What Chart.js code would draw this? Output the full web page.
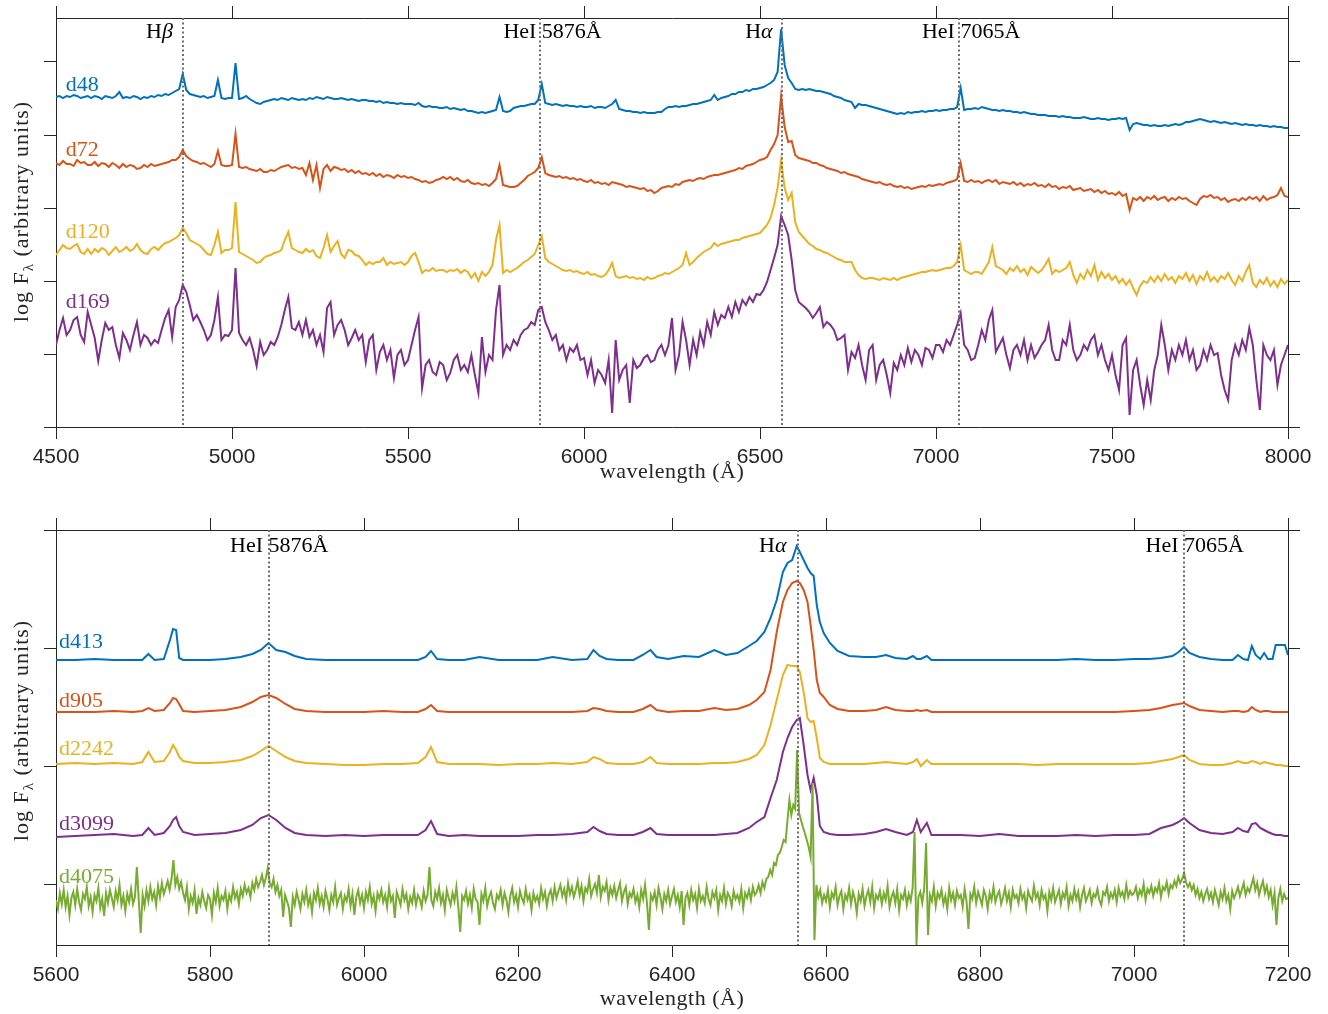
<!DOCTYPE html>
<html>
<head>
<meta charset="utf-8">
<script src="https://cdn.jsdelivr.net/npm/chart.js@4.4.1/dist/chart.umd.min.js"></script>
<style>
  html, body { margin: 0; padding: 0; background: #fff; }
  canvas { display: block; }
</style>
</head>
<body>
<canvas id="chartTop" width="1328" height="507"></canvas>
<canvas id="chartBottom" width="1328" height="507"></canvas>
<script>
// ---- top panel: early epochs, sampled every 10 A from 4500 to 8000 A ----
const TOP_START = 4500;
const TOP_STEP = 10;

const D48 = [
  3.30,3.31,3.29,3.31,3.30,3.32,3.31,3.29,3.30,3.31,
  3.29,3.31,3.30,3.28,3.31,3.30,3.29,3.31,3.35,3.29,
  3.30,3.29,3.31,3.30,3.28,3.30,3.29,3.31,3.30,3.32,
  3.31,3.33,3.32,3.34,3.36,3.38,3.53,3.37,3.33,3.32,
  3.31,3.30,3.31,3.29,3.30,3.31,3.47,3.29,3.28,3.29,
  3.29,3.64,3.28,3.29,3.31,3.28,3.26,3.24,3.23,3.25,
  3.26,3.27,3.28,3.27,3.29,3.28,3.27,3.29,3.28,3.27,
  3.28,3.27,3.29,3.28,3.30,3.29,3.28,3.30,3.29,3.28,
  3.28,3.29,3.28,3.27,3.28,3.27,3.26,3.27,3.27,3.26,
  3.26,3.25,3.26,3.24,3.25,3.24,3.24,3.23,3.24,3.23,
  3.23,3.23,3.22,3.24,3.21,3.20,3.21,3.20,3.20,3.19,
  3.19,3.20,3.18,3.19,3.18,3.17,3.18,3.16,3.16,3.15,
  3.14,3.15,3.14,3.15,3.16,3.17,3.30,3.16,3.15,3.16,
  3.19,3.20,3.21,3.21,3.22,3.23,3.23,3.27,3.43,3.24,
  3.23,3.22,3.23,3.22,3.21,3.22,3.21,3.21,3.20,3.21,
  3.20,3.20,3.21,3.19,3.20,3.20,3.19,3.21,3.23,3.27,
  3.18,3.17,3.16,3.16,3.15,3.15,3.14,3.15,3.14,3.14,
  3.14,3.15,3.15,3.18,3.20,3.20,3.21,3.20,3.21,3.21,
  3.22,3.23,3.23,3.24,3.25,3.26,3.27,3.32,3.27,3.29,
  3.30,3.31,3.33,3.33,3.35,3.35,3.37,3.36,3.38,3.38,
  3.39,3.40,3.42,3.44,3.47,3.55,3.98,3.62,3.49,3.44,
  3.38,3.37,3.38,3.37,3.38,3.37,3.36,3.36,3.35,3.34,
  3.33,3.31,3.30,3.29,3.27,3.26,3.25,3.19,3.23,3.22,
  3.22,3.21,3.20,3.19,3.18,3.17,3.16,3.15,3.14,3.13,
  3.14,3.13,3.15,3.14,3.15,3.15,3.16,3.15,3.16,3.16,
  3.17,3.16,3.17,3.17,3.18,3.18,3.20,3.39,3.17,3.18,
  3.18,3.19,3.18,3.20,3.19,3.18,3.17,3.17,3.16,3.17,
  3.16,3.16,3.15,3.15,3.14,3.15,3.14,3.13,3.13,3.12,
  3.12,3.12,3.11,3.11,3.11,3.10,3.11,3.10,3.10,3.09,
  3.09,3.09,3.10,3.09,3.08,3.08,3.09,3.08,3.08,3.07,
  3.08,3.08,3.09,3.08,3.09,2.97,3.03,3.04,3.03,3.02,
  3.02,3.01,3.02,3.01,3.01,3.02,3.01,3.02,3.03,3.02,
  3.03,3.05,3.05,3.06,3.07,3.08,3.07,3.06,3.05,3.06,
  3.05,3.04,3.05,3.04,3.03,3.04,3.03,3.02,3.03,3.02,
  3.02,3.01,3.02,3.01,3.01,3.00,3.01,3.00,3.00,2.99,
  2.99
];

const D72 = [
  2.64,2.62,2.66,2.63,2.63,2.61,2.67,2.64,2.65,2.62,
  2.62,2.65,2.61,2.64,2.63,2.60,2.64,2.62,2.59,2.63,
  2.60,2.62,2.61,2.58,2.59,2.62,2.60,2.63,2.61,2.62,
  2.63,2.64,2.65,2.67,2.67,2.70,2.77,2.71,2.68,2.66,
  2.65,2.63,2.64,2.62,2.60,2.63,2.76,2.62,2.61,2.61,
  2.62,2.93,2.60,2.59,2.60,2.58,2.57,2.56,2.58,2.55,
  2.55,2.57,2.56,2.58,2.60,2.61,2.62,2.59,2.60,2.58,
  2.59,2.52,2.64,2.47,2.62,2.39,2.58,2.62,2.56,2.60,
  2.59,2.57,2.58,2.55,2.57,2.54,2.56,2.53,2.54,2.52,
  2.54,2.51,2.53,2.50,2.52,2.51,2.49,2.52,2.50,2.51,
  2.49,2.50,2.48,2.47,2.45,2.46,2.44,2.45,2.47,2.48,
  2.50,2.48,2.50,2.47,2.49,2.46,2.45,2.47,2.44,2.43,
  2.44,2.42,2.43,2.41,2.44,2.48,2.62,2.42,2.41,2.40,
  2.40,2.41,2.44,2.47,2.51,2.53,2.55,2.59,2.70,2.54,
  2.52,2.51,2.50,2.51,2.49,2.50,2.48,2.49,2.47,2.48,
  2.46,2.45,2.47,2.44,2.45,2.43,2.44,2.42,2.45,2.44,
  2.43,2.42,2.40,2.41,2.40,2.39,2.38,2.39,2.36,2.37,
  2.34,2.36,2.39,2.40,2.41,2.40,2.43,2.42,2.45,2.46,
  2.47,2.46,2.48,2.49,2.48,2.50,2.51,2.52,2.52,2.53,
  2.54,2.55,2.56,2.57,2.59,2.58,2.61,2.62,2.63,2.65,
  2.67,2.68,2.70,2.77,2.83,2.92,3.31,3.00,2.85,2.86,
  2.72,2.69,2.68,2.67,2.66,2.64,2.64,2.62,2.61,2.59,
  2.58,2.57,2.56,2.54,2.55,2.53,2.52,2.51,2.50,2.48,
  2.47,2.46,2.45,2.44,2.45,2.43,2.42,2.43,2.41,2.40,
  2.41,2.39,2.40,2.38,2.39,2.40,2.41,2.40,2.42,2.41,
  2.42,2.43,2.42,2.44,2.45,2.46,2.48,2.64,2.46,2.45,
  2.47,2.45,2.46,2.44,2.46,2.47,2.45,2.47,2.43,2.45,
  2.44,2.43,2.45,2.42,2.44,2.41,2.43,2.42,2.44,2.41,
  2.42,2.40,2.43,2.40,2.41,2.38,2.40,2.39,2.41,2.37,
  2.38,2.39,2.36,2.37,2.38,2.35,2.37,2.34,2.36,2.33,
  2.34,2.32,2.35,2.31,2.33,2.17,2.29,2.27,2.30,2.26,
  2.30,2.28,2.31,2.27,2.29,2.30,2.26,2.29,2.27,2.30,
  2.28,2.29,2.26,2.24,2.22,2.28,2.31,2.30,2.32,2.29,
  2.30,2.27,2.29,2.25,2.27,2.28,2.26,2.29,2.27,2.30,
  2.28,2.30,2.26,2.31,2.27,2.29,2.30,2.32,2.39,2.31,
  2.30
];

const D120 = [
  1.72,1.77,1.82,1.79,1.78,1.81,1.83,1.75,1.73,1.78,
  1.73,1.78,1.75,1.79,1.77,1.72,1.76,1.80,1.75,1.77,
  1.80,1.76,1.78,1.83,1.77,1.74,1.73,1.78,1.80,1.77,
  1.81,1.84,1.85,1.87,1.89,1.92,1.99,1.94,1.87,1.85,
  1.83,1.81,1.77,1.73,1.72,1.82,1.95,1.74,1.77,1.77,
  1.79,2.25,1.75,1.73,1.71,1.69,1.67,1.64,1.65,1.69,
  1.71,1.72,1.74,1.75,1.77,1.87,1.95,1.79,1.77,1.75,
  1.74,1.78,1.75,1.77,1.71,1.69,1.79,1.92,1.75,1.81,
  1.86,1.73,1.69,1.77,1.76,1.72,1.71,1.67,1.62,1.65,
  1.63,1.65,1.65,1.69,1.62,1.65,1.63,1.64,1.65,1.62,
  1.65,1.71,1.74,1.65,1.54,1.57,1.56,1.59,1.56,1.57,
  1.57,1.55,1.57,1.56,1.58,1.54,1.57,1.55,1.49,1.54,
  1.46,1.55,1.51,1.55,1.62,1.87,2.02,1.54,1.57,1.55,
  1.57,1.59,1.62,1.65,1.67,1.70,1.73,1.82,1.91,1.69,
  1.65,1.63,1.61,1.59,1.57,1.56,1.57,1.55,1.56,1.54,
  1.53,1.55,1.52,1.53,1.51,1.50,1.52,1.57,1.64,1.51,
  1.49,1.50,1.51,1.49,1.50,1.48,1.49,1.47,1.50,1.48,
  1.49,1.51,1.52,1.54,1.53,1.55,1.57,1.59,1.62,1.74,
  1.62,1.65,1.69,1.72,1.75,1.77,1.79,1.84,1.81,1.83,
  1.84,1.85,1.86,1.87,1.87,1.89,1.90,1.91,1.92,1.93,
  1.94,1.98,2.02,2.09,2.22,2.39,2.67,2.39,2.27,2.34,
  2.05,1.95,1.91,1.87,1.83,1.81,1.78,1.77,1.75,1.74,
  1.72,1.70,1.68,1.67,1.65,1.65,1.65,1.57,1.52,1.49,
  1.48,1.49,1.49,1.48,1.47,1.49,1.48,1.47,1.49,1.47,
  1.49,1.50,1.51,1.52,1.53,1.54,1.55,1.55,1.56,1.57,
  1.56,1.57,1.58,1.59,1.59,1.61,1.65,1.82,1.57,1.55,
  1.53,1.55,1.55,1.53,1.59,1.65,1.80,1.61,1.59,1.57,
  1.53,1.59,1.56,1.61,1.55,1.58,1.52,1.60,1.57,1.54,
  1.57,1.62,1.68,1.53,1.57,1.55,1.57,1.59,1.65,1.52,
  1.44,1.53,1.48,1.57,1.51,1.62,1.47,1.55,1.49,1.53,
  1.47,1.51,1.44,1.48,1.42,1.47,1.39,1.32,1.41,1.46,
  1.44,1.50,1.45,1.51,1.46,1.53,1.47,1.50,1.44,1.51,
  1.48,1.54,1.46,1.52,1.43,1.51,1.47,1.55,1.46,1.50,
  1.45,1.51,1.48,1.54,1.47,1.42,1.51,1.46,1.55,1.62,
  1.44,1.40,1.47,1.43,1.49,1.41,1.46,1.40,1.48,1.43,
  1.47
];

const D169 = [
  0.82,0.97,1.09,0.92,0.97,1.07,1.10,0.92,0.85,1.15,
  1.02,0.89,0.66,0.87,1.04,0.97,1.00,0.82,0.69,0.94,
  0.87,0.77,0.92,1.05,0.82,0.92,0.89,0.82,0.87,0.84,
  0.97,1.09,1.17,0.90,1.20,1.27,1.42,1.35,1.22,1.07,
  1.12,1.05,0.97,0.87,0.92,1.07,1.30,0.87,0.92,0.91,
  0.97,1.59,0.94,0.87,0.82,0.89,0.77,0.61,0.85,0.72,
  0.77,0.85,0.82,0.90,1.02,1.17,1.30,0.99,0.97,1.05,
  0.92,1.07,0.90,0.97,0.82,0.92,0.75,1.19,1.25,0.92,
  1.02,1.07,0.97,0.82,0.89,0.97,0.87,0.92,0.65,0.87,
  0.92,0.57,0.75,0.82,0.67,0.77,0.49,0.72,0.77,0.62,
  0.67,0.82,0.97,1.10,0.39,0.62,0.67,0.55,0.52,0.65,
  0.62,0.47,0.54,0.67,0.72,0.57,0.62,0.55,0.72,0.52,
  0.34,0.90,0.55,0.72,0.67,1.17,1.42,0.72,0.82,0.77,
  0.87,0.82,0.92,0.97,0.99,1.05,1.02,1.17,1.20,1.05,
  0.97,0.87,0.92,0.77,0.82,0.67,0.79,0.75,0.82,0.67,
  0.69,0.52,0.67,0.44,0.57,0.52,0.44,0.67,0.14,0.87,
  0.47,0.57,0.62,0.24,0.67,0.59,0.62,0.69,0.72,0.65,
  0.67,0.77,0.82,0.72,0.82,1.09,0.57,0.72,1.05,0.87,
  0.62,0.87,0.72,0.95,0.82,1.05,0.92,1.15,1.02,1.12,
  1.09,1.20,1.10,1.25,1.15,1.27,1.22,1.30,1.25,1.33,
  1.32,1.37,1.45,1.57,1.69,1.82,2.11,2.02,1.92,1.67,
  1.37,1.25,1.22,1.19,1.15,1.09,1.14,1.20,1.00,1.05,
  1.02,0.97,0.87,0.89,0.92,0.57,0.75,0.69,0.82,0.62,
  0.47,0.77,0.82,0.47,0.62,0.67,0.52,0.34,0.64,0.57,
  0.72,0.62,0.79,0.65,0.77,0.72,0.62,0.79,0.77,0.69,
  0.82,0.82,0.75,0.87,0.82,0.92,1.02,1.14,0.82,0.77,
  0.67,0.69,0.82,0.97,0.87,1.07,1.17,0.75,0.82,0.89,
  0.72,0.59,0.77,0.82,0.72,0.87,0.67,0.82,0.69,0.75,
  0.82,0.87,1.02,0.77,0.67,0.67,0.87,0.82,1.02,0.77,
  0.67,0.72,0.82,0.77,0.87,0.92,0.72,0.82,0.67,0.57,
  0.72,0.52,0.37,0.82,0.89,0.12,0.57,0.67,0.42,0.22,
  0.47,0.27,0.57,0.72,1.02,0.82,0.57,0.77,0.67,0.82,
  0.72,0.87,0.67,0.77,0.57,0.62,0.77,0.67,0.82,0.72,
  0.74,0.52,0.37,0.27,0.67,0.82,0.72,0.87,0.77,0.99,
  0.82,0.47,0.17,0.82,0.72,0.67,0.77,0.42,0.62,0.72,
  0.82
];

// ---- bottom panel: late epochs, 5600-7200 A ----
const BOT_WL = [
  5600,5625,5650,5675,5700,5712,5720,5728,5740,5748,
  5752,5756,5760,5765,5780,5800,5820,5840,5855,5866,
  5876,5886,5898,5910,5925,5950,5975,6000,6025,6050,
  6070,6080,6087,6095,6110,6130,6150,6175,6200,6225,
  6245,6270,6290,6298,6306,6315,6330,6350,6362,6372,
  6380,6395,6415,6435,6455,6470,6485,6500,6510,6520,
  6528,6536,6544,6550,6556,6562,6566,6571,6576,6580,
  6584,6588,6592,6597,6605,6615,6630,6650,6665,6678,
  6690,6705,6713,6718,6723,6731,6737,6750,6775,6800,
  6825,6850,6875,6900,6925,6950,6975,7000,7020,7035,
  7050,7058,7065,7072,7085,7100,7115,7128,7135,7142,
  7148,7153,7158,7164,7169,7174,7180,7184,7190,7196,
  7200
];

const D413 = [
  2.85,2.85,2.86,2.85,2.85,2.85,2.91,2.85,2.86,3.05,
  3.16,3.15,2.87,2.85,2.85,2.85,2.86,2.88,2.91,2.95,
  3.02,2.95,2.93,2.89,2.86,2.85,2.85,2.85,2.85,2.85,
  2.85,2.88,2.94,2.86,2.85,2.85,2.88,2.85,2.85,2.85,
  2.88,2.85,2.86,2.95,2.89,2.86,2.85,2.85,2.90,2.95,
  2.88,2.86,2.89,2.88,2.95,2.90,2.92,2.99,3.04,3.13,
  3.27,3.45,3.73,3.82,3.85,3.99,3.93,3.85,3.77,3.72,
  3.69,3.40,3.23,3.12,3.02,2.94,2.89,2.88,2.88,2.90,
  2.87,2.86,2.89,2.86,2.86,2.89,2.85,2.85,2.85,2.85,
  2.85,2.85,2.85,2.85,2.86,2.85,2.85,2.86,2.86,2.87,
  2.89,2.93,2.98,2.92,2.88,2.86,2.85,2.85,2.90,2.86,
  2.85,2.99,2.90,2.86,2.92,2.86,2.86,3.00,3.00,3.00,
  2.90
];

const D905 = [
  2.33,2.33,2.33,2.34,2.33,2.34,2.37,2.34,2.35,2.42,
  2.47,2.46,2.41,2.34,2.33,2.34,2.35,2.38,2.43,2.48,
  2.50,2.47,2.41,2.36,2.34,2.33,2.33,2.33,2.34,2.33,
  2.33,2.36,2.40,2.34,2.33,2.33,2.33,2.33,2.33,2.33,
  2.33,2.33,2.34,2.37,2.36,2.34,2.33,2.33,2.36,2.40,
  2.35,2.33,2.34,2.34,2.37,2.35,2.36,2.40,2.45,2.53,
  2.75,3.13,3.43,3.55,3.62,3.64,3.62,3.55,3.43,3.20,
  2.95,2.65,2.52,2.48,2.40,2.36,2.34,2.34,2.35,2.38,
  2.35,2.34,2.34,2.35,2.34,2.35,2.33,2.33,2.33,2.33,
  2.33,2.33,2.33,2.33,2.33,2.33,2.33,2.34,2.35,2.37,
  2.40,2.41,2.42,2.39,2.35,2.34,2.33,2.34,2.34,2.33,
  2.34,2.38,2.35,2.33,2.34,2.34,2.33,2.33,2.33,2.33,
  2.33
];

const D2242 = [
  1.81,1.82,1.81,1.82,1.81,1.83,1.93,1.83,1.84,1.93,
  2.00,1.95,1.88,1.84,1.82,1.82,1.83,1.85,1.89,1.94,
  1.99,1.94,1.88,1.84,1.82,1.81,1.80,1.80,1.81,1.81,
  1.82,1.88,1.98,1.83,1.81,1.81,1.81,1.80,1.81,1.81,
  1.82,1.81,1.83,1.88,1.86,1.82,1.81,1.81,1.83,1.88,
  1.82,1.81,1.81,1.81,1.82,1.82,1.83,1.86,1.90,2.00,
  2.20,2.45,2.70,2.80,2.79,2.79,2.73,2.53,2.27,2.23,
  2.24,2.07,1.87,1.83,1.81,1.81,1.81,1.81,1.82,1.83,
  1.82,1.81,1.83,1.86,1.79,1.85,1.81,1.81,1.81,1.81,
  1.81,1.81,1.80,1.81,1.81,1.81,1.81,1.81,1.82,1.84,
  1.86,1.88,1.90,1.85,1.81,1.80,1.80,1.82,1.84,1.82,
  1.82,1.84,1.83,1.81,1.83,1.82,1.81,1.80,1.80,1.79,
  1.79
];

const D3099 = [
  1.08,1.09,1.10,1.11,1.09,1.10,1.17,1.10,1.12,1.19,
  1.25,1.28,1.19,1.13,1.10,1.11,1.12,1.15,1.20,1.27,
  1.30,1.25,1.17,1.12,1.10,1.09,1.10,1.09,1.10,1.10,
  1.10,1.15,1.24,1.11,1.09,1.10,1.09,1.09,1.09,1.10,
  1.10,1.11,1.13,1.18,1.14,1.11,1.10,1.10,1.13,1.17,
  1.11,1.10,1.10,1.10,1.10,1.11,1.12,1.17,1.23,1.28,
  1.47,1.65,1.93,2.07,2.18,2.25,2.27,2.00,1.70,1.55,
  1.67,1.50,1.19,1.13,1.11,1.10,1.10,1.11,1.13,1.16,
  1.13,1.10,1.13,1.25,1.13,1.22,1.10,1.10,1.10,1.09,
  1.11,1.09,1.09,1.09,1.10,1.09,1.10,1.10,1.11,1.17,
  1.20,1.23,1.27,1.22,1.15,1.12,1.11,1.13,1.17,1.14,
  1.13,1.21,1.22,1.17,1.15,1.13,1.11,1.10,1.10,1.09,
  1.09
];

// d4075 is sampled every 2.5 A from 5600 A
const D4075_START = 5600;
const D4075_STEP = 2.5;
const D4075 = [
  0.45,0.36,0.52,0.41,0.55,0.38,0.49,0.30,0.47,0.53,
  0.40,0.56,0.43,0.35,0.51,0.46,0.58,0.39,0.48,0.33,
  0.50,0.44,0.57,0.37,0.46,0.29,0.52,0.42,0.55,0.47,
  0.38,0.54,0.45,0.60,0.40,0.49,0.34,0.51,0.43,0.56,
  0.41,0.48,0.78,0.45,0.12,0.50,0.39,0.55,0.44,0.58,
  0.46,0.53,0.40,0.59,0.48,0.62,0.51,0.57,0.64,0.55,
  0.66,0.85,0.60,0.68,0.56,0.63,0.52,0.45,0.58,0.36,
  0.49,0.42,0.55,0.31,0.47,0.40,0.53,0.44,0.37,0.50,
  0.46,0.30,0.52,0.43,0.57,0.39,0.49,0.45,0.54,0.36,
  0.50,0.44,0.58,0.47,0.53,0.41,0.56,0.49,0.60,0.52,
  0.57,0.48,0.62,0.55,0.66,0.58,0.63,0.70,0.60,0.67,
  0.77,0.62,0.58,0.66,0.53,0.60,0.49,0.55,0.28,0.50,
  0.44,0.37,0.18,0.48,0.40,0.53,0.45,0.36,0.51,0.43,
  0.55,0.40,0.48,0.33,0.52,0.45,0.57,0.41,0.49,0.38,
  0.54,0.46,0.35,0.50,0.43,0.58,0.40,0.47,0.52,0.36,
  0.49,0.44,0.56,0.39,0.51,0.30,0.48,0.55,0.42,0.50,
  0.37,0.53,0.45,0.58,0.41,0.49,0.34,0.52,0.46,0.55,
  0.43,0.50,0.38,0.57,0.44,0.49,0.27,0.53,0.47,0.40,
  0.56,0.45,0.51,0.36,0.48,0.42,0.55,0.40,0.50,0.46,
  0.38,0.54,0.44,0.50,0.78,0.45,0.39,0.53,0.46,0.57,
  0.42,0.50,0.35,0.55,0.47,0.40,0.52,0.44,0.58,0.38,
  0.13,0.49,0.45,0.54,0.41,0.50,0.37,0.56,0.46,0.43,
  0.20,0.51,0.44,0.57,0.39,0.48,0.53,0.42,0.36,0.50,
  0.46,0.55,0.40,0.52,0.45,0.33,0.49,0.57,0.43,0.50,
  0.38,0.54,0.47,0.42,0.56,0.45,0.50,0.35,0.52,0.44,
  0.49,0.41,0.57,0.46,0.53,0.39,0.50,0.55,0.44,0.58,
  0.47,0.54,0.60,0.49,0.56,0.45,0.62,0.51,0.58,0.48,
  0.55,0.64,0.50,0.59,0.44,0.57,0.53,0.66,0.49,0.56,
  0.61,0.52,0.70,0.48,0.58,0.54,0.63,0.45,0.57,0.50,
  0.59,0.47,0.55,0.62,0.44,0.53,0.58,0.41,0.52,0.48,
  0.56,0.43,0.50,0.38,0.55,0.46,0.60,0.42,0.15,0.50,
  0.45,0.53,0.40,0.57,0.48,0.36,0.51,0.44,0.55,0.41,
  0.49,0.56,0.43,0.50,0.38,0.54,0.20,0.47,0.52,0.40,
  0.55,0.45,0.51,0.37,0.56,0.44,0.49,0.42,0.58,0.46,
  0.40,0.53,0.47,0.55,0.35,0.50,0.44,0.57,0.41,0.52,
  0.48,0.39,0.54,0.46,0.50,0.43,0.56,0.37,0.52,0.47,
  0.55,0.45,0.58,0.50,0.53,0.60,0.52,0.63,0.57,0.66,
  0.68,0.75,0.70,0.82,0.80,0.90,0.92,0.98,1.05,1.03,
  1.25,1.45,1.30,1.40,1.36,1.95,1.32,1.25,1.18,1.12,
  1.05,0.98,0.88,1.62,0.05,0.60,0.48,0.55,0.42,0.50,
  0.44,0.55,0.38,0.52,0.47,0.58,0.40,0.49,0.54,0.36,
  0.50,0.45,0.57,0.41,0.53,0.46,0.32,0.51,0.44,0.56,
  0.39,0.49,0.55,0.43,0.58,0.37,0.50,0.46,0.54,0.41,
  0.52,0.45,0.59,0.38,0.48,0.53,0.42,0.56,0.35,0.50,
  0.46,0.55,0.40,0.51,0.44,0.57,1.13,0.00,0.48,0.53,
  0.42,0.56,1.02,0.10,0.50,0.44,0.58,0.39,0.52,0.47,
  0.55,0.41,0.49,0.36,0.57,0.45,0.52,0.40,0.54,0.47,
  0.50,0.38,0.56,0.44,0.16,0.51,0.46,0.58,0.42,0.53,
  0.47,0.40,0.55,0.49,0.36,0.52,0.45,0.58,0.43,0.50,
  0.54,0.41,0.48,0.57,0.44,0.52,0.38,0.55,0.47,0.50,
  0.42,0.56,0.46,0.51,0.37,0.54,0.48,0.44,0.59,0.47,
  0.52,0.40,0.55,0.46,0.50,0.34,0.53,0.45,0.57,0.43,
  0.49,0.55,0.41,0.52,0.47,0.58,0.39,0.50,0.44,0.56,
  0.46,0.53,0.38,0.50,0.57,0.44,0.49,0.55,0.42,0.51,
  0.48,0.56,0.45,0.40,0.53,0.50,0.58,0.44,0.52,0.47,
  0.55,0.43,0.57,0.49,0.53,0.46,0.60,0.48,0.54,0.50,
  0.52,0.58,0.47,0.55,0.50,0.61,0.45,0.56,0.52,0.59,
  0.49,0.57,0.53,0.62,0.48,0.58,0.55,0.63,0.51,0.60,
  0.57,0.64,0.59,0.68,0.62,0.66,0.72,0.63,0.58,0.62,
  0.55,0.60,0.50,0.56,0.47,0.53,0.44,0.51,0.56,0.46,
  0.52,0.43,0.55,0.48,0.40,0.53,0.46,0.57,0.44,0.50,
  0.36,0.54,0.47,0.52,0.58,0.49,0.55,0.62,0.50,0.57,
  0.53,0.60,0.67,0.55,0.62,0.50,0.58,0.64,0.52,0.59,
  0.48,0.55,0.40,0.52,0.20,0.47,0.56,0.44,0.51,0.46,
  0.47
];

// marked lines (A) and their labels
const TOP_LINES = [4861, 5876, 6563, 7065];
const TOP_LINE_NAMES = ["Hβ", "HeI 5876Å", "Hα", "HeI 7065Å"];
const BOT_LINES = [5876, 6563, 7065];
const BOT_LINE_NAMES = ["HeI 5876Å", "Hα", "HeI 7065Å"];

// y tick values (arbitrary units, no labels)
const TOP_Y_TICKS = [0, 0.73, 1.46, 2.19, 2.92, 3.65];
const BOT_Y_TICKS = [0.61, 1.79, 2.97, 4.15];

const SERIF = '"Liberation Serif", "Times New Roman", serif';
const SANS = '"Liberation Sans", Arial, sans-serif';
const INK = "#262626";
const COLORS = ["#0072BD", "#D95319", "#EDB120", "#7E2F8E", "#77AC30"];

const pairs = (xs, ys) => ys.map((v, i) => ({ x: xs[i], y: v }));
const grid = (vals, start, step) => vals.map((_, i) => start + i * step);

// greek letters go in italic, like the TeX labels
function drawRich(ctx, text, x, y, size) {
    const runs = text.match(/[αβλ]+|[^αβλ]+/g) || [];
    let cx = x;
    runs.forEach((r) => {
        ctx.font = (/[αβλ]/.test(r) ? "italic " : "") + size + "px " + SERIF;
        ctx.fillText(r, cx, y);
        cx += ctx.measureText(r).width;
    });
}

const annotate = {
    id: "annotate",
    afterDatasetsDraw(chart, args, o) {
        const { ctx, chartArea: a } = chart;
        const xs = chart.scales.x;
        const ys = chart.scales.y;
        ctx.save();

        // dotted line markers
        ctx.strokeStyle = "#6f6f6f";
        ctx.lineWidth = 2;
        ctx.setLineDash([2, 2.5]);
        o.lines.forEach((w) => {
            const px = Math.round(xs.getPixelForValue(w));
            ctx.beginPath();
            ctx.moveTo(px, a.top);
            ctx.lineTo(px, a.bottom);
            ctx.stroke();
        });
        ctx.setLineDash([]);

        ctx.textAlign = "left";
        ctx.textBaseline = "alphabetic";
        ctx.fillStyle = "#000";
        o.lineNames.forEach((t, i) => {
            drawRich(ctx, t, xs.getPixelForValue(o.lines[i] - o.nameShift), a.top + o.nameDrop, 22);
        });

        // epoch labels
        o.epochs.forEach((t, i) => {
            ctx.fillStyle = COLORS[i];
            drawRich(ctx, t, xs.getPixelForValue(o.epochX), ys.getPixelForValue(o.epochY[i]), 22);
        });

        // axis titles
        ctx.fillStyle = INK;
        ctx.font = "22px " + SERIF;
        ctx.textAlign = "center";
        ctx.letterSpacing = "0.5px";
        ctx.fillText("wavelength (Å)", (a.left + a.right) / 2, a.bottom + o.xTitleDrop);

        ctx.letterSpacing = "1px";
        ctx.translate(o.yTitleX, (a.top + a.bottom) / 2 + o.yTitleShift);
        ctx.rotate(-Math.PI / 2);
        ctx.textAlign = "left";
        const p1 = "log F", p3 = " (arbitrary units)";
        ctx.font = "22px " + SERIF;
        const w1 = ctx.measureText(p1).width;
        const w3 = ctx.measureText(p3).width;
        ctx.font = "15px " + SERIF;
        const w2 = ctx.measureText("λ").width;
        const sx = -(w1 + w2 + w3) / 2;
        ctx.font = "22px " + SERIF;
        ctx.fillText(p1, sx, 0);
        ctx.fillText(p3, sx + w1 + w2, 0);
        ctx.font = "15px " + SERIF;
        ctx.fillText("λ", sx + w1, 5);
        ctx.restore();
    },
};

function axes(p) {
    const gridOpts = { drawOnChartArea: false, drawTicks: true, tickLength: 12, color: INK, lineWidth: 1 };
    const border = { display: true, color: INK, width: 1 };
    const yTicks = (s) => { s.ticks = p.yTicks.map((v) => ({ value: v })); };
    const yAxis = (pos) => ({
        type: "linear", position: pos, min: 0, max: p.yMax, grid: gridOpts, border,
        ticks: { display: false },
        afterBuildTicks: yTicks,
        afterFit: (s) => { s.width = 12; },
    });
    return {
        x: {
            type: "linear", position: "bottom", min: p.xMin, max: p.xMax, grid: gridOpts, border,
            ticks: {
                stepSize: p.xStep, autoSkip: false, maxRotation: 0, padding: 6, color: INK,
                font: { family: SANS, size: 21 },
                callback: (v) => String(v),
            },
            afterFit: (s) => { s.height = p.xAxisH; },
        },
        xTop: {
            type: "linear", position: "top", min: p.xMin, max: p.xMax, grid: gridOpts, border,
            ticks: { stepSize: p.xStep, display: false },
            afterFit: (s) => { s.height = 13; },
        },
        y: yAxis("left"),
        yRight: yAxis("right"),
    };
}

function makeChart(id, datasets, p, ann) {
    datasets.forEach((d, i) => {
        Object.assign(d, {
            borderColor: COLORS[i], borderWidth: d.borderWidth || 2, pointRadius: 0, fill: false,
            tension: 0, xAxisID: "x", yAxisID: "y", order: -i,
        });
    });
    return new Chart(document.getElementById(id), {
        type: "line",
        data: { datasets },
        options: {
            responsive: false,
            animation: false,
            events: [],
            layout: { autoPadding: false, padding: p.padding },
            plugins: { legend: { display: false }, tooltip: { enabled: false }, annotate: ann },
            scales: axes(p),
        },
        plugins: [annotate],
    });
}

const topWl = grid(D48, TOP_START, TOP_STEP);

makeChart("chartTop", [
    { label: "d48", data: pairs(topWl, D48) },
    { label: "d72", data: pairs(topWl, D72) },
    { label: "d120", data: pairs(topWl, D120) },
    { label: "d169", data: pairs(topWl, D169) },
], {
    xMin: 4500, xMax: 8000, xStep: 500, yMax: 4.09, yTicks: TOP_Y_TICKS,
    xAxisH: 80, padding: { top: 5, left: 44, right: 28, bottom: 0 },
}, {
    lines: TOP_LINES, lineNames: TOP_LINE_NAMES, nameShift: 105, nameDrop: 20,
    epochs: ["d48", "d72", "d120", "d169"], epochX: 4528, epochY: [3.36, 2.71, 1.89, 1.19],
    xTitleDrop: 51, yTitleX: 28, yTitleShift: -11,
});

const greenWl = grid(D4075, D4075_START, D4075_STEP);

makeChart("chartBottom", [
    { label: "d413", data: pairs(BOT_WL, D413) },
    { label: "d905", data: pairs(BOT_WL, D905) },
    { label: "d2242", data: pairs(BOT_WL, D2242) },
    { label: "d3099", data: pairs(BOT_WL, D3099) },
    { label: "d4075", data: pairs(greenWl, D4075), borderWidth: 2 },
], {
    xMin: 5600, xMax: 7200, xStep: 200, yMax: 4.15, yTicks: BOT_Y_TICKS,
    xAxisH: 69, padding: { top: 10, left: 44, right: 28, bottom: 0 },
}, {
    lines: BOT_LINES, lineNames: BOT_LINE_NAMES, nameShift: 50, nameDrop: 22,
    epochs: ["d413", "d905", "d2242", "d3099", "d4075"], epochX: 5604,
    epochY: [2.97, 2.38, 1.90, 1.15, 0.62],
    xTitleDrop: 60, yTitleX: 28, yTitleShift: -7,
});
</script>
</body>
</html>
